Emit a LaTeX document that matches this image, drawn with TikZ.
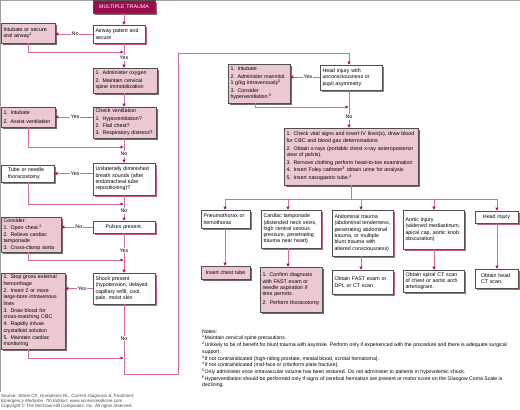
\documentclass[tikz,border=0pt]{standalone}
\usepackage{fontspec}
\setmainfont{Liberation Sans}
\usetikzlibrary{arrows.meta,shadows}
\definecolor{linec}{RGB}{220,104,158}
\definecolor{arrowc}{RGB}{168,16,88}
\definecolor{pinkf}{RGB}{236,201,208}
\definecolor{titlef}{RGB}{155,12,76}
\definecolor{bordc}{RGB}{80,80,80}
\definecolor{shw}{RGB}{196,96,128}
\definecolor{shp}{RGB}{115,105,110}
\definecolor{framec}{RGB}{160,160,160}
\definecolor{srcc}{RGB}{70,70,70}
\newcommand{\fs}{\fontsize{5.3}{6.3}\selectfont}
\begin{document}
\begin{tikzpicture}[x=1pt,y=-1pt,
 base/.style={draw=bordc, line width=0.55pt, font=\fs, inner xsep=2.5pt, inner ysep=1pt, align=left},
 wbox/.style={base, fill=white, general shadow={fill=shw, shadow xshift=1.8pt, shadow yshift=-1.8pt}},
 pbox/.style={base, fill=pinkf, general shadow={fill=shp, shadow xshift=1.8pt, shadow yshift=-1.8pt}},
 tbox/.style={base, fill=titlef, text=white, align=center, general shadow={fill=shp, shadow xshift=1.8pt, shadow yshift=-1.8pt}},
 conn/.style={draw=linec, line width=0.85pt, -{Triangle[length=3pt,width=3pt,color=arrowc]}},
 plainln/.style={draw=linec, line width=0.85pt},
 lab/.style={fill=white, font=\fs, inner sep=0.8pt, text=black},
]
\useasboundingbox (0,0) rectangle (520,410);
\draw[framec, line width=0.6pt] (0.4,392) -- (0.4,0.4) -- (520,0.4);

% helper coordinates
\coordinate (mx) at (124,0);
\coordinate (rx) at (28,0);
\coordinate (hx) at (349,0);
\coordinate (hrx) at (255,0);
\coordinate (j1) at (123.5,52);
\coordinate (j2) at (123.5,147);
\coordinate (j3) at (123.5,204);
\coordinate (j4) at (123.5,260);
\coordinate (j5) at (123.5,358);
\coordinate (c1) at (124,374);
\coordinate (c2) at (178,53);
\coordinate (j6) at (348.5,107);
\coordinate (bc) at (351,199);
\coordinate (b1) at (225,199);
\coordinate (b2) at (288,199);
\coordinate (b3) at (361,199);
\coordinate (b4) at (434,199);
\coordinate (b5) at (497,199);

% left column
\node[tbox, text width=57pt, minimum height=12.5pt] (title) at (124,7) {MULTIPLE TRAUMA};
\node[wbox, text width=47pt, minimum height=18pt] (airway) at (119,34) {Airway patent and\\secure};
\node[pbox, text width=49pt, minimum height=20pt] (intub1) at (28,33) {Intubate or secure\\oral airway\textsuperscript{1}};
\node[pbox, text width=59pt, minimum height=25pt] (adm) at (125,80.5) {1. Administer oxygen\\[1.5pt]2. Maintain cervical\\spine immobilization};
\node[pbox, text width=58pt, minimum height=31pt] (chk) at (124.5,122.5) {Check ventilation\\[1pt]1. Hypoventilation?\\[1pt]2. Flail chest?\\[1pt]3. Respiratory distress?};
\node[pbox, text width=49pt, minimum height=20pt] (intub2) at (28,117) {1. Intubate\\[2pt]2. Assist ventilation};
\node[wbox, text width=57pt, minimum height=32pt] (unil) at (124,179) {Unilaterally diminished\\breath sounds (after\\endotracheal tube\\repositioning)?};
\node[wbox, inner xsep=7pt, text width=39pt, minimum height=17pt] (tube) at (27.5,173.5) {Tube or needle\\thoracostomy};
\node[wbox, align=center, text width=57pt, minimum height=12pt] (pulses) at (124,227) {Pulses present.};
\node[pbox, text width=55pt, minimum height=35pt] (consider) at (31,234.5) {Consider:\\[0.7pt]1. Open chest.\textsuperscript{2}\\[0.7pt]2. Relieve cardiac\\tamponade\\[0.7pt]3. Cross-clamp aorta};
\node[wbox, text width=57pt, minimum height=31pt] (shock) at (124,288.5) {Shock present\\(hypotension, delayed\\capillary refill, cool,\\pale, moist skin};
\node[pbox, text width=59pt, minimum height=76pt] (act) at (33,311) {1. Stop gross external\\hemorrhage\\[1pt]2. Insert 2 or more\\large-bore intravenous\\lines\\[1pt]3. Draw blood for\\cross-matching CBC\\[1pt]4. Rapidly infuse\\crystalloid solution\\[1pt]5. Maintain cardiac\\monitoring};

% upper right
\node[wbox, text width=57pt, minimum height=25pt] (headq) at (351,77.5) {Head injury with\\unconsciousness or\\pupil asymmetry.};
\node[pbox, text width=57pt, minimum height=39pt] (hact) at (259,83.5) {1. Intubate\\[1.5pt]2. Administer mannitol,\\1 g/kg intravenously\textsuperscript{5}\\[1.5pt]3. Consider\\hyperventilation.\textsuperscript{6}};
\node[pbox, text width=129pt, minimum height=57pt] (big) at (351,156.5) {1. Check vital signs and insert IV lines(s), draw blood\\for CBC and blood gas determinations\\[1.5pt]2. Obtain x-rays (portable chest x-ray anteroposterior\\view of pelvis).\\[1.5pt]3. Remove clothing perform head-to-toe examination\\[1.5pt]4. Insert Foley catheter\textsuperscript{3} obtain urine for analysis\\[1.5pt]5. Insert nasogastric tube.\textsuperscript{4}};

% row 1
\node[wbox, text width=44pt, minimum height=18pt] (pneu) at (225.5,219) {Pneumothorax or\\hemothorax};
\node[wbox, text width=55pt, minimum height=38pt] (card) at (291,229) {Cardiac tamponade\\(distended neck veins,\\high central venous\\pressure, penetrating\\trauma near heart)};
\node[wbox, text width=56pt, minimum height=46pt] (abd) at (362.5,233) {Abdominal trauma\\(abdominal tenderness,\\penetrating abdominal\\trauma, or multiple\\blunt trauma with\\altered consciousness)};
\node[wbox, text width=56pt, minimum height=39pt] (aort) at (433.5,229.5) {Aortic injury\\(widened mediastinum,\\apical cap, aortic knob\\obscuration)};
\node[wbox, align=center, text width=38pt, minimum height=12pt] (headi) at (496.5,217) {Head injury};

% row 2
\node[pbox, align=center, text width=44pt, minimum height=13pt] (chest) at (225.5,272.5) {Insert chest tube};
\node[pbox, text width=57pt, minimum height=45pt] (conf) at (291,289.5) {1. Confirm diagnosis\\with FAST exam or\\needle aspiration if\\time permits.\\[3pt]2. Perform thoracotomy};
\node[wbox, text width=56pt, minimum height=24pt] (fast) at (362.5,282) {Obtain FAST exam or\\DPL or CT scan.};
\node[wbox, text width=56pt, minimum height=22pt] (spiral) at (433.5,281) {Obtain spiral CT scan\\of chest or aortic arch\\arteriogram.};
\node[wbox, inner xsep=6pt, text width=31pt, minimum height=19pt] (hct) at (496.5,278.5) {Obtain head\\CT scan.};

% connectors, left column
\draw[conn] (title.south -| mx) -- (airway.north -| mx);
\draw[conn] (airway.west) -- node[lab,pos=0.47]{No} (airway.west -| intub1.east);
\draw[conn] (intub1.south -| rx) |- (j1);
\draw[conn] (airway.south -| mx) -- node[lab,pos=0.6]{Yes} (adm.north -| mx);
\draw[conn] (adm.south -| mx) -- (chk.north -| mx);
\draw[conn] (chk.west |- intub2.east) -- node[lab,pos=0.47]{Yes} (intub2.east);
\draw[conn] (intub2.south -| rx) |- (j2);
\draw[conn] (chk.south -| mx) -- node[lab,pos=0.64]{No} (unil.north -| mx);
\draw[conn] (unil.west |- tube.east) -- node[lab,pos=0.46]{Yes} (tube.east);
\draw[conn] (tube.south -| rx) |- (j3);
\draw[conn] (unil.south -| mx) -- node[lab,pos=0.62]{No} (pulses.north -| mx);
\draw[conn] (pulses.west) -- node[lab,pos=0.44]{No} (pulses.west -| consider.east);
\draw[conn] (consider.south -| rx) |- (j4);
\draw[conn] (pulses.south -| mx) -- node[lab,pos=0.43]{Yes} (shock.north -| mx);
\draw[conn] (shock.west) -- node[lab,pos=0.39]{Yes} (shock.west -| act.east);
\draw[conn] (act.south -| rx) |- (j5);
\draw[conn] (shock.south -| mx) -- node[lab,pos=0.49]{No} (c1) -| (c2) -| (headq.north -| hx);

% connectors, right part
\draw[conn] (headq.west |- 0,77) -- node[lab,pos=0.4]{Yes} (hact.east |- 0,77);
\draw[conn] (hact.south -| hrx) |- (j6);
\draw[conn] (headq.south -| hx) -- node[lab,pos=0.71]{No} (big.north -| hx);
\draw[plainln] (big.south -| bc) -- (bc);
\draw[plainln] (b1) -- (b5);
\draw[conn] (b1) -- (pneu.north -| b1);
\draw[conn] (b2) -- (card.north -| b2);
\draw[conn] (b3) -- (abd.north -| b3);
\draw[conn] (b4) -- (aort.north -| b4);
\draw[conn] (b5) -- (headi.north -| b5);
\draw[conn] (pneu.south -| b1) -- (chest.north -| b1);
\draw[conn] (card.south -| b2) -- (conf.north -| b2);
\draw[conn] (abd.south -| b3) -- (fast.north -| b3);
\draw[conn] (aort.south -| b4) -- (spiral.north -| b4);
\draw[conn] (headi.south -| b5) -- (hct.north -| b5);

% notes
\node[font=\fontsize{5.15}{6.7}\selectfont, align=left, anchor=north west, inner sep=0pt] (notes) at (202,329.5) {Notes:\\
\textsuperscript{1}Maintain cervical spine precautions.\\
\textsuperscript{2}Unlikely to be of benefit for blunt trauma with asystole. Perform only if experienced with the procedure and there is adequate surgical\\
support.\\
\textsuperscript{3}If not contraindicated (high-riding prostate, meatal blood, scrotal hematoma).\\
\textsuperscript{4}If not contraindicated (mid-face or cribriform plate fracture).\\
\textsuperscript{5}Only administer once intravascular volume has been restored. Do not administer to patients in hypovolemic shock.\\
\textsuperscript{6}Hyperventilation should be performed only if signs of cerebral herniation are present or motor score on the Glasgow Coma Scale is\\
declining.};

% source
\node[font=\fontsize{4.5}{5.1}\selectfont, text=srcc, align=left, anchor=north west, inner sep=0pt] (src) at (1,394) {Source: Stone CK, Humphries RL: \textit{Current Diagnosis \& Treatment:}\\
\textit{Emergency Medicine, 7th Edition}: www.accessmedicine.com\\
Copyright © The McGraw-Hill Companies, Inc. All rights reserved.};
\end{tikzpicture}
\end{document}
